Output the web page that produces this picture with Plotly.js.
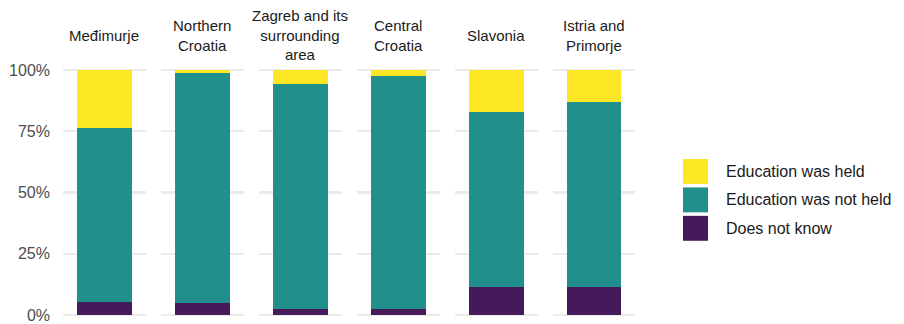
<!DOCTYPE html>
<html>
<head>
<meta charset="utf-8">
<script src="https://cdn.plot.ly/plotly-3.0.1.min.js"></script>
<style>html,body{margin:0;padding:0;background:#fff;}#chart{width:904px;height:324px;}</style>
</head>
<body>
<div id="chart"></div>
<script>
// ---- data ----
const regions = ['Međimurje', 'Northern Croatia', 'Zagreb and its surrounding area', 'Central Croatia', 'Slavonia', 'Istria and Primorje'];
const stripLabels = ['Međimurje', 'Northern<br>Croatia', 'Zagreb and its<br>surrounding<br>area', 'Central<br>Croatia', 'Slavonia', 'Istria and<br>Primorje'];
const doesNotKnow = [5.5, 5.1, 2.6, 2.6, 11.6, 11.6];
const notHeld = [70.8, 93.7, 91.7, 95.0, 71.3, 75.3];
const held = [23.7, 1.2, 5.7, 2.4, 17.1, 13.1];
const seriesNames = ['Does not know', 'Education was not held', 'Education was held'];
const seriesColors = ['#45195a', '#21908c', '#fde725'];
const yTicks = [0, 25, 50, 75, 100];
const yTickLabels = ['0%', '25%', '50%', '75%', '100%'];

const seriesValues = [doesNotKnow, notHeld, held];

// ---- layout geometry ----
const W = 904, H = 324;
const mL = 63, mR = 269, mT = 64.8, mB = 3.6;
const plotW = W - mL - mR;
const pitch = 98, panelW = 82.5;

const traces = [];
const layout = {
  width: W, height: H,
  margin: {l: mL, r: mR, t: mT, b: mB, pad: 0},
  paper_bgcolor: '#fff', plot_bgcolor: 'rgba(0,0,0,0)',
  barmode: 'stack',
  showlegend: false,
  font: {family: 'Liberation Sans, Arial, sans-serif', color: '#1a1a1a', size: 15},
  yaxis: {
    range: [-2, 102], tickmode: 'array', tickvals: yTicks, ticktext: yTickLabels,
    showgrid: true, gridcolor: '#ebebeb', gridwidth: 2.5,
    zeroline: false, showline: false, ticks: '',
    tickfont: {size: 16, color: '#4d4d4d'},
    ticklabelstandoff: 12,
    anchor: 'x', fixedrange: true
  },
  annotations: [], shapes: []
};

regions.forEach((reg, i) => {
  const axName = i === 0 ? 'x' : 'x' + (i + 1);
  const layoutKey = i === 0 ? 'xaxis' : 'xaxis' + (i + 1);
  const start = pitch * i;
  layout[layoutKey] = {
    domain: [start / plotW, Math.min(1, (start + panelW) / plotW)],
    type: 'category', range: [-0.5, 0.5],
    showgrid: false, zeroline: false, showline: false, showticklabels: false, ticks: '',
    anchor: 'y', fixedrange: true
  };
  seriesValues.forEach((vals, s) => {
    traces.push({
      type: 'bar', x: [reg], y: [vals[i]], xaxis: axName, yaxis: 'y',
      name: seriesNames[s], marker: {color: seriesColors[s], line: {width: 0}},
      width: 0.6627, hoverinfo: 'name+y', showlegend: false
    });
  });
  layout.annotations.push({
    text: stripLabels[i], xref: axName + ' domain', x: 0.5, yref: 'paper', y: 1,
    yshift: 30, xanchor: 'center', yanchor: 'middle', showarrow: false,
    font: {size: 15, color: '#1a1a1a'}, align: 'center'
  });
});

// ---- legend (drawn from series names/colours, top item = top of stack) ----
const legX0 = (683 - mL) / plotW, legX1 = (708 - mL) / plotW;
const legTextX = (724 - mL) / plotW;
const plotH = H - mT - mB;
const legOrder = [2, 1, 0];
legOrder.forEach((s, k) => {
  const cy = 171.5 + 28.5 * k;
  const y0 = (H - mB - (cy + 12.5)) / plotH, y1 = (H - mB - (cy - 12.5)) / plotH;
  layout.shapes.push({type: 'rect', xref: 'paper', yref: 'paper', x0: legX0, x1: legX1, y0: y0, y1: y1,
    fillcolor: seriesColors[s], line: {width: 0}});
  layout.annotations.push({text: seriesNames[s], xref: 'paper', yref: 'paper', x: legTextX,
    y: (H - mB - cy) / plotH, xanchor: 'left', yanchor: 'middle', showarrow: false,
    font: {size: 16, color: '#1a1a1a'}});
});

Plotly.newPlot('chart', traces, layout, {displayModeBar: false, staticPlot: true});
</script>
</body>
</html>
